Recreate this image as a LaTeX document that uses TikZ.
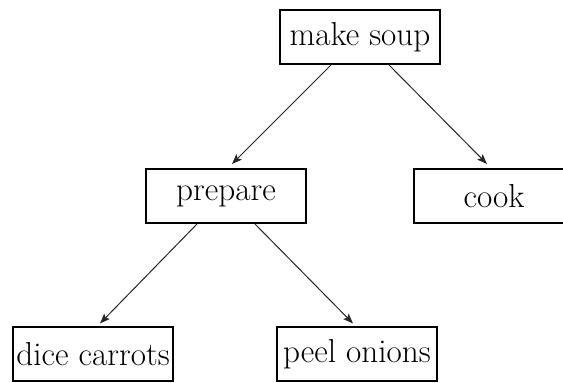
\documentclass[tikz,border=0pt]{standalone}
\usetikzlibrary{arrows.meta}

\begin{document}
\begin{tikzpicture}[x=0.5pt, y=-0.5pt, >={Stealth[length=5pt, width=3.8pt, inset=1pt]},
    task/.style={draw, line width=1pt, minimum width=80pt, minimum height=27pt,
        inner xsep=1pt, font=\fontsize{16.6}{19}\selectfont},
    edge/.style={->, draw=black!85, line width=0.5pt}]

    \clip (0, 0) rectangle (563, 383);

    % --- tasks ---
    \node[task] (soup)    at (360, 37)  {make soup};
    \node[task] (prepare) at (226, 196) {prepare};
    \node[task] (cook)    at (494, 196) {cook};
    \node[task] (dice)    at (93, 354.5)  {dice carrots};
    \node[task] (peel)    at (357, 354.5) {peel onions};

    % --- subtasks ---
    \draw[edge] (soup.224)    -- ([xshift=3pt, yshift=2pt]prepare.north);
    \draw[edge] (soup.316)    -- ([xshift=-3.5pt, yshift=2pt]cook.north);
    \draw[edge] (prepare.224) -- ([xshift=3.5pt, yshift=1.5pt]dice.north);
    \draw[edge] (prepare.316) -- ([xshift=-2pt, yshift=1.5pt]peel.north);

\end{tikzpicture}
\end{document}
